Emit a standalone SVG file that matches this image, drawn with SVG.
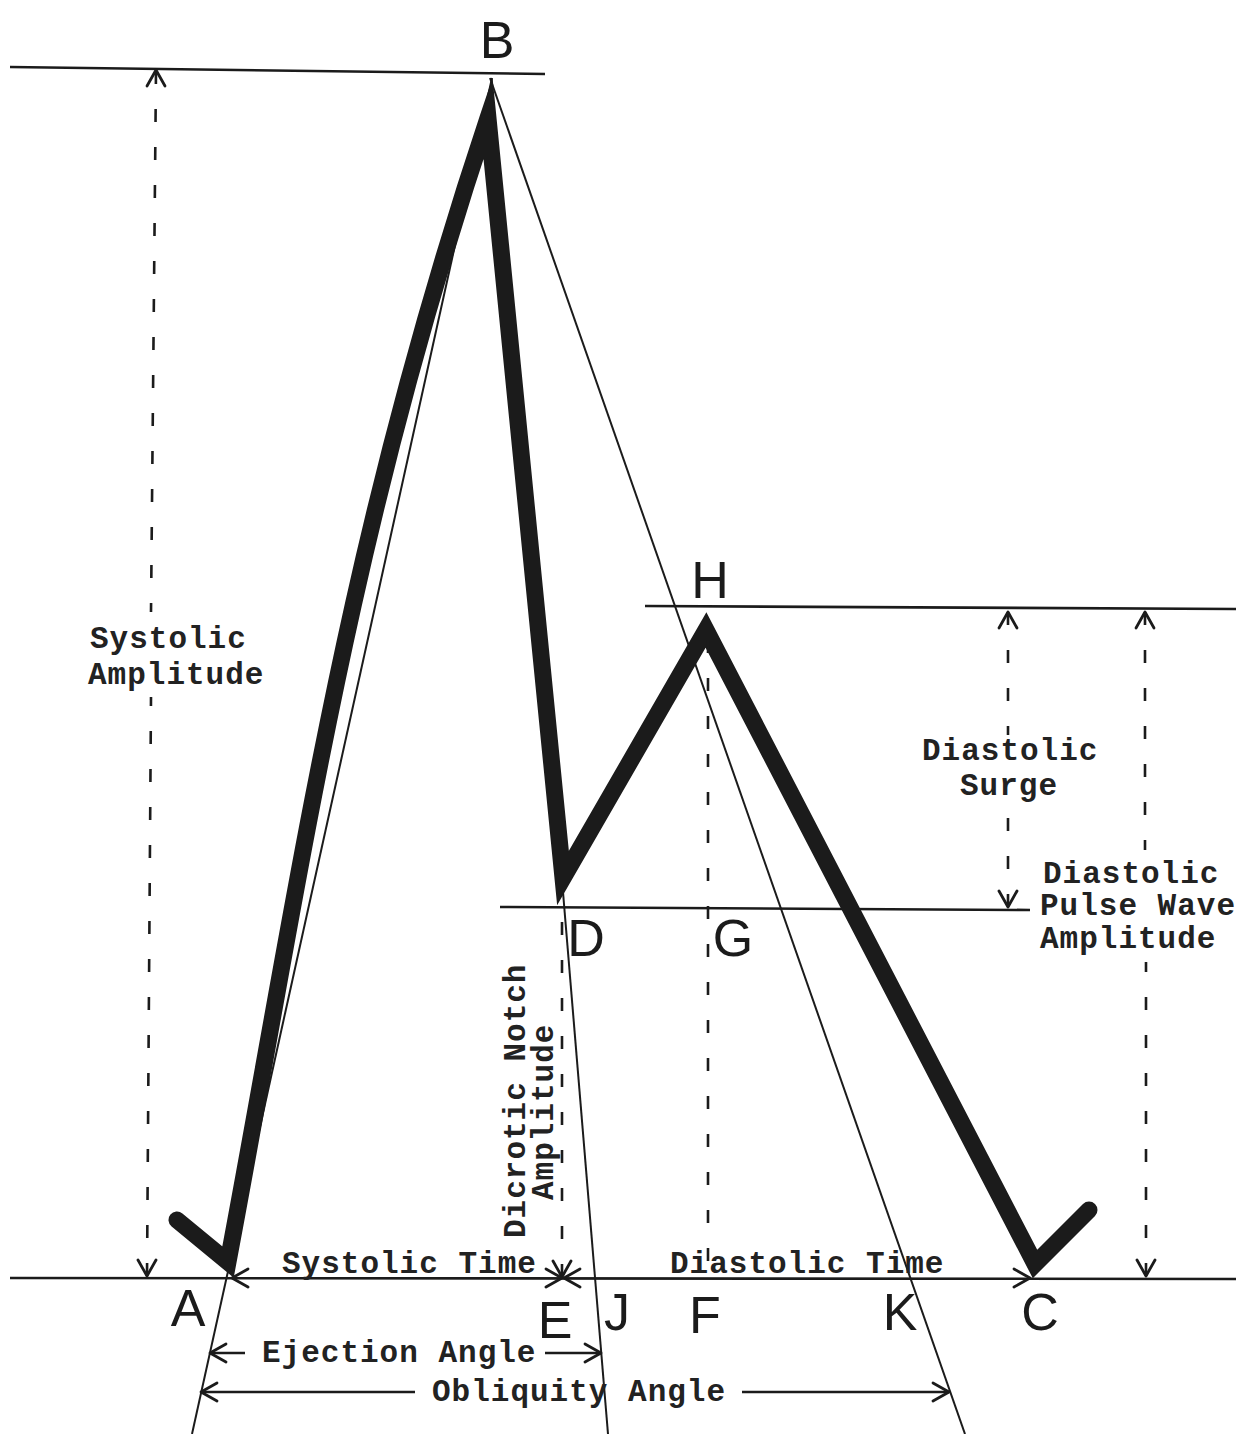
<svg xmlns="http://www.w3.org/2000/svg" xmlns:xlink="http://www.w3.org/1999/xlink" width="1236" height="1434" viewBox="0 0 1236 1434">
<style>
.thick{fill:none;stroke:#1b1b1b;stroke-width:17;stroke-linejoin:miter;stroke-miterlimit:8;stroke-linecap:round}
.thin{fill:none;stroke:#1b1b1b;stroke-width:2}
.rule{fill:none;stroke:#1b1b1b;stroke-width:2.6}
.dash{fill:none;stroke:#1b1b1b;stroke-width:2.6;stroke-dasharray:13 25}
.ah{fill:none;stroke:#1b1b1b;stroke-width:2.8;stroke-linecap:round;stroke-linejoin:round}
.lbl{font-family:"Liberation Sans",Arial,sans-serif;font-size:52px;fill:#1b1b1b}
.tw{font-family:"Liberation Mono","Courier New",monospace;font-size:31px;font-weight:bold;letter-spacing:1px;fill:#222}
</style>
<defs>
<path id="ah" class="ah" d="M-16,-9 L0,0 L-16,9"/>
</defs>
<rect width="1236" height="1434" fill="#ffffff"/>

<g id="reference-lines">
<path class="rule" d="M10,67 L545,74"/>
<path class="rule" d="M645,606 L1236,609"/>
<path class="rule" d="M500,907 L1030,910"/>
<path class="rule" d="M10,1278 L1236,1279"/>
</g>

<g id="construction-lines">
<path class="thin" d="M492,78 L192,1434"/>
<path class="thin" d="M490,78 L965,1434"/>
<path class="thin" d="M562,880 L608,1434"/>
</g>

<g id="pulse-wave">
<path class="thick" d="M177,1220 L228,1262 C300,880 345,545 488,118 L563,878 L706,630 L1035,1264 L1089,1210"/>
</g>

<g id="connectors">
<path class="dash" d="M156,71 L151,612"/>
<path class="dash" d="M147,1276 L151,697"/>
<path class="dash" d="M1008,612 L1008,735"/>
<path class="dash" d="M1008,907 L1008,805"/>
<path class="dash" d="M1145,612 L1145,850"/>
<path class="dash" d="M1146,1276 L1146,962"/>
<path class="dash" d="M562,1277 L562,912"/>
<path class="dash" d="M708,640 L708,1268"/>
<path class="rule" d="M210,1353 L245,1353 M545,1353 L601,1353"/>
<path class="rule" d="M201,1392 L415,1392 M742,1392 L949,1392"/>
<use href="#ah" transform="translate(156,70) rotate(-90)"/>
<use href="#ah" transform="translate(147,1276) rotate(90)"/>
<use href="#ah" transform="translate(1008,612) rotate(-90)"/>
<use href="#ah" transform="translate(1008,907) rotate(90)"/>
<use href="#ah" transform="translate(1145,612) rotate(-90)"/>
<use href="#ah" transform="translate(1146,1276) rotate(90)"/>
<use href="#ah" transform="translate(562,1277) rotate(90)"/>
<use href="#ah" transform="translate(232,1278) rotate(180)"/>
<use href="#ah" transform="translate(562,1278)"/>
<use href="#ah" transform="translate(564,1278) rotate(180)"/>
<use href="#ah" transform="translate(1030,1278)"/>
<use href="#ah" transform="translate(210,1353) rotate(180)"/>
<use href="#ah" transform="translate(601,1353)"/>
<use href="#ah" transform="translate(201,1392) rotate(180)"/>
<use href="#ah" transform="translate(949,1392)"/>
</g>

<g id="point-labels">
<text class="lbl" x="497" y="58" text-anchor="middle">B</text>
<text class="lbl" x="710" y="598" text-anchor="middle">H</text>
<text class="lbl" x="586" y="956" text-anchor="middle">D</text>
<text class="lbl" x="733" y="956" text-anchor="middle">G</text>
<text class="lbl" x="188" y="1326" text-anchor="middle">A</text>
<text class="lbl" x="555" y="1338" text-anchor="middle">E</text>
<text class="lbl" x="617" y="1330" text-anchor="middle">J</text>
<text class="lbl" x="705" y="1333" text-anchor="middle">F</text>
<text class="lbl" x="900" y="1330" text-anchor="middle">K</text>
<text class="lbl" x="1040" y="1330" text-anchor="middle">C</text>
</g>

<g id="systolic-amplitude">
<text class="tw" x="90" y="648">Systolic</text>
<text class="tw" x="88" y="684">Amplitude</text>
</g>
<g id="diastolic-surge">
<text class="tw" x="922" y="760">Diastolic</text>
<text class="tw" x="960" y="795">Surge</text>
</g>
<g id="diastolic-pulse-wave-amplitude">
<text class="tw" x="1043" y="883">Diastolic</text>
<text class="tw" x="1040" y="915">Pulse Wave</text>
<text class="tw" x="1040" y="948">Amplitude</text>
</g>
<g id="dicrotic-notch-amplitude">
<text class="tw" transform="translate(525,1238) rotate(-90)">Dicrotic Notch</text>
<text class="tw" transform="translate(553,1200) rotate(-90)">Amplitude</text>
</g>
<g id="time-labels">
<text class="tw" x="282" y="1273">Systolic Time</text>
<text class="tw" x="670" y="1273">Diastolic Time</text>
</g>
<g id="angle-labels">
<text class="tw" x="262" y="1362">Ejection Angle</text>
<text class="tw" x="432" y="1401">Obliquity Angle</text>
</g>
</svg>
